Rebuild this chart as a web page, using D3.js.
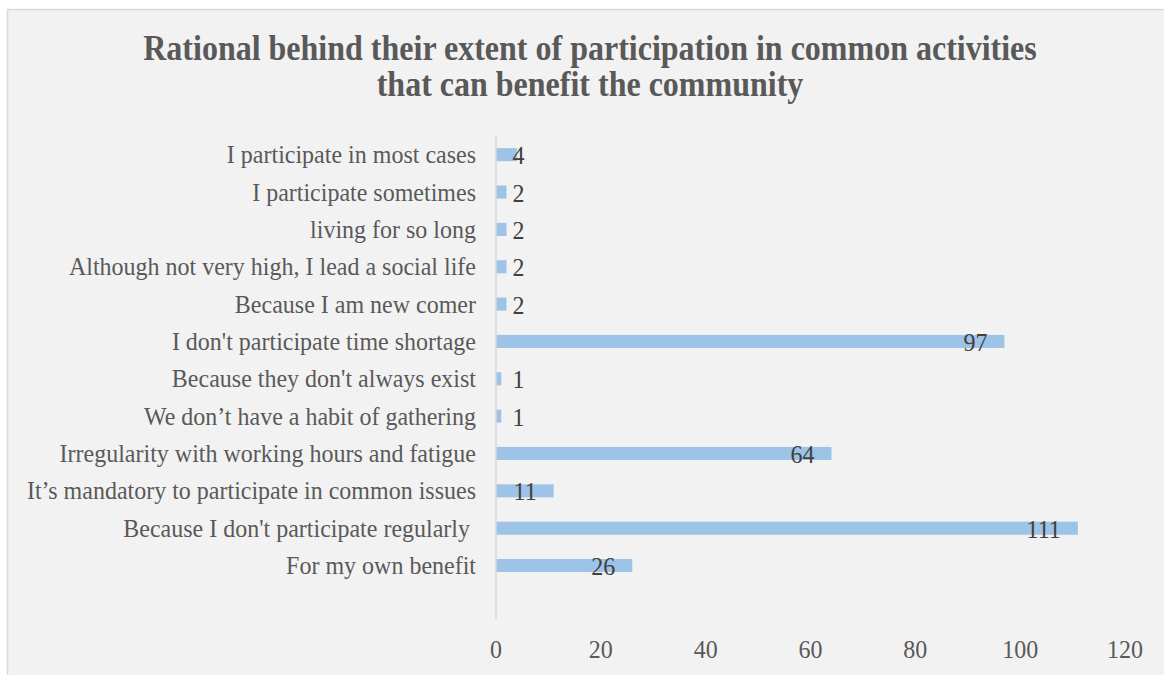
<!DOCTYPE html>
<html>
<head>
<meta charset="utf-8">
<script src="https://cdn.jsdelivr.net/npm/d3@7"></script>
<style>
  html, body { margin: 0; padding: 0; background: #ffffff; }
  svg { display: block; }
  text { white-space: pre; }
</style>
</head>
<body>
<svg id="chart" width="1164" height="675"></svg>
<script>
const titleLines = [
  "Rational behind their extent of participation in common activities",
  "that can benefit the community"
];
const categories = [
  "I participate in most cases",
  "I participate sometimes",
  "living for so long",
  "Although not very high, I lead a social life",
  "Because I am new comer",
  "I don't participate time shortage",
  "Because they don't always exist",
  "We don\u2019t have a habit of gathering",
  "Irregularity with working hours and fatigue",
  "It\u2019s mandatory to participate in common issues",
  "Because I don't participate regularly ",
  "For my own benefit"
];
const values = [4, 2, 2, 2, 2, 97, 1, 1, 64, 11, 111, 26];
const xTicks = [0, 20, 40, 60, 80, 100, 120];

const svg = d3.select("#chart");
const FONT = "'Liberation Serif', 'Times New Roman', serif";
const STRETCH = 1.09;

// chart background
svg.append("rect")
  .attr("x", 7.5).attr("y", 9.5)
  .attr("width", 1180).attr("height", 700)
  .attr("fill", "#f2f2f2")
  .attr("stroke", "#d9d9d9")
  .attr("stroke-width", 1.5);

function stretchedText(g, x, y, str) {
  return g.append("text")
    .attr("transform", `translate(${x},${y}) scale(1,${STRETCH})`)
    .text(str);
}

// title
const titleG = svg.append("g")
  .attr("font-family", FONT)
  .attr("font-weight", "bold")
  .attr("font-size", 32)
  .attr("fill", "#595959")
  .attr("text-anchor", "middle");
titleLines.forEach((t, i) => stretchedText(titleG, 590, 60 + i * 36, t));

// scales
const x = d3.scaleLinear().domain([0, 120]).range([496, 1125]);
const bandStep = 37.35;
const y = d3.scaleBand()
  .domain(categories)
  .range([136, 136 + bandStep * categories.length])
  .paddingInner(0.65)
  .paddingOuter(0.325);

// bars
svg.append("g").selectAll("rect")
  .data(values)
  .join("rect")
  .attr("x", x(0))
  .attr("y", (d, i) => y(categories[i]))
  .attr("width", d => x(d) - x(0))
  .attr("height", y.bandwidth())
  .attr("fill", "#9dc3e6");

// vertical axis line
svg.append("line")
  .attr("x1", x(0)).attr("x2", x(0))
  .attr("y1", 135).attr("y2", 620)
  .attr("stroke", "#d9d9d9")
  .attr("stroke-width", 1.5);

// category labels
const catG = svg.append("g")
  .attr("font-family", FONT)
  .attr("font-size", 24)
  .attr("fill", "#595959")
  .attr("text-anchor", "end");
categories.forEach(c => {
  stretchedText(catG, 476, y(c) + y.bandwidth() / 2 + 8.5, c);
});

// value labels
const valG = svg.append("g")
  .attr("font-family", FONT)
  .attr("font-size", 24)
  .attr("fill", "#404040")
  .attr("text-anchor", "start");
values.forEach((v, i) => {
  const cy = y(categories[i]) + y.bandwidth() / 2 + 9.5;
  const t = stretchedText(valG, 0, cy, String(v));
  const w = t.node().getComputedTextLength();
  const left = Math.max(x(v) - 17 - w, x(0) + 16.5);
  t.attr("transform", `translate(${left},${cy}) scale(1,${STRETCH})`);
});

// x tick labels
const tickG = svg.append("g")
  .attr("font-family", FONT)
  .attr("font-size", 24)
  .attr("fill", "#595959")
  .attr("text-anchor", "middle");
xTicks.forEach(t => stretchedText(tickG, x(t), 658, String(t)));
</script>
</body>
</html>
